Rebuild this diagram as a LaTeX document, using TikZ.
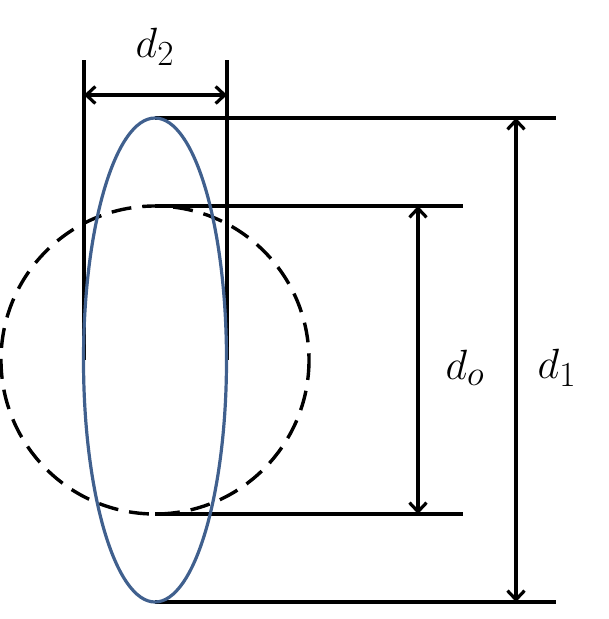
\documentclass[tikz,border=0pt]{standalone}
\usetikzlibrary{arrows.meta}
\definecolor{ellblue}{RGB}{64,96,142}
\begin{document}
\begin{tikzpicture}[x=1pt,y=-1pt,line width=3pt,
  dimline/.style={black,line width=3.2pt},
  dimarrow/.style={black,line width=3.2pt,{Straight Barb[length=9pt,width=17pt,line width=3.2pt]}-{Straight Barb[length=9pt,width=17pt,line width=3.2pt]}},
  lbl/.style={inner sep=0pt,font=\Huge,scale=1.7}]
\useasboundingbox (0,0) rectangle (609,619);
% key points
\coordinate (c) at (155,360);
\coordinate (etop) at (155,118);
\coordinate (ebot) at (155,602);
\coordinate (ctop) at (155,206);
\coordinate (cbot) at (155,514);
\coordinate (e1top) at (556,118);
\coordinate (e1bot) at (556,602);
\coordinate (c1top) at (463,206);
\coordinate (c1bot) at (463,514);
\coordinate (a1top) at (516,118);
\coordinate (a1bot) at (516,602);
\coordinate (aotop) at (418,206);
\coordinate (aobot) at (418,514);
\coordinate (vlt) at (84,60);
\coordinate (vlb) at (84,360);
\coordinate (vrt) at (227,60);
\coordinate (vrb) at (227,360);
\coordinate (a2l) at (84,95);
\coordinate (a2r) at (227,95);
% dashed circle
\draw[black,line width=3.4pt,dash pattern=on 20pt off 11pt] (c) circle[radius=154];
% extension lines
\draw[dimline] (etop) -- (e1top);
\draw[dimline] (ebot) -- (e1bot);
\draw[dimline] (ctop) -- (c1top);
\draw[dimline] (cbot) -- (c1bot);
\draw[dimline] (vlt) -- (vlb);
\draw[dimline] (vrt) -- (vrb);
% dimension arrows
\draw[dimarrow] (a1top) -- (a1bot);
\draw[dimarrow] (aotop) -- (aobot);
\draw[dimarrow] (a2l) -- (a2r);
% ellipse
\draw[ellblue,line width=3.2pt] (c) ellipse[x radius=71.5,y radius=242];
% labels
\node[lbl] (d2) at (155,47) {$d_2$};
\node[lbl] (do) at (465,368) {$d_o$};
\node[lbl] (d1) at (557,368) {$d_1$};
\end{tikzpicture}
\end{document}
